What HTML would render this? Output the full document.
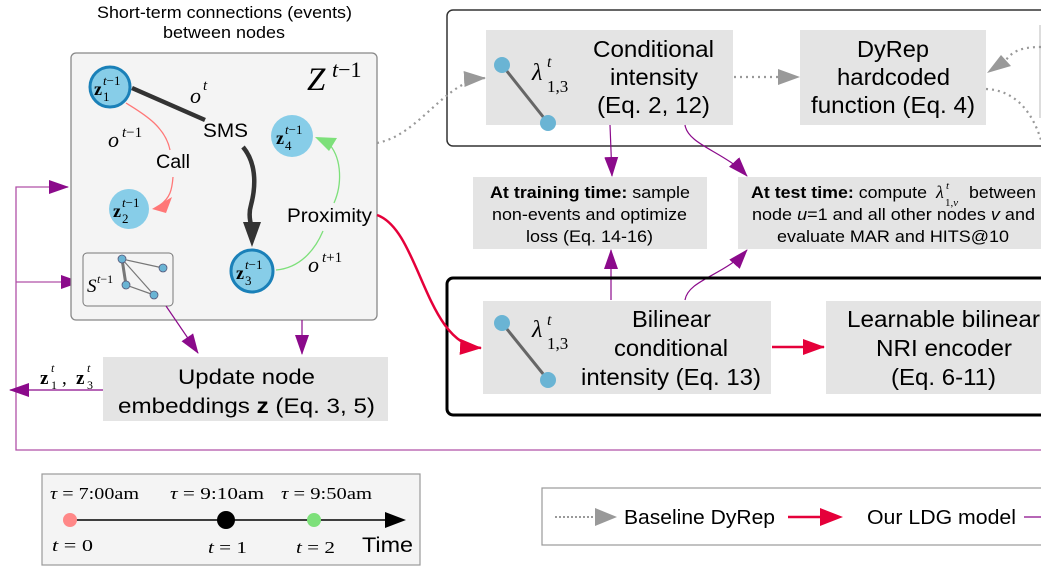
<!DOCTYPE html>
<html><head><meta charset="utf-8"><style>
html,body{margin:0;padding:0;background:#fff;width:1041px;height:573px;overflow:hidden}
svg{display:block}
.s{font-family:"Liberation Sans",sans-serif}
.m{font-family:"Liberation Serif",serif}
</style></head><body>
<svg width="1041" height="573" viewBox="0 0 1041 573" xmlns="http://www.w3.org/2000/svg">
<defs>
<marker id="pub" markerWidth="20" markerHeight="14" refX="19" refY="7" orient="auto" markerUnits="userSpaceOnUse"><path d="M0,0 L20,7 L0,14z" fill="#8b0a8b"/></marker>
<marker id="rd" markerWidth="22" markerHeight="16" refX="21" refY="8" orient="auto" markerUnits="userSpaceOnUse"><path d="M0,0 L22,8 L0,16z" fill="#e5003a"/></marker>
<marker id="gr" markerWidth="22" markerHeight="16" refX="21" refY="8" orient="auto" markerUnits="userSpaceOnUse"><path d="M0,0 L22,8 L0,16z" fill="#999"/></marker>
</defs>

<!-- title -->
<text class="s" x="97" y="18" font-size="17" textLength="255" lengthAdjust="spacingAndGlyphs">Short-term connections (events)</text>
<text class="s" x="163" y="38" font-size="17" textLength="122" lengthAdjust="spacingAndGlyphs">between nodes</text>

<!-- purple feedback loop -->
<path d="M1041,450 H16 V187 H68" fill="none" stroke="#b050a8" stroke-width="1.3" marker-end="url(#pub)"/>
<path d="M16,282 H80" fill="none" stroke="#b050a8" stroke-width="1.3" marker-end="url(#pub)"/>

<!-- Z box -->
<rect x="71" y="53" width="306" height="267" rx="5" fill="#f4f4f4" stroke="#888" stroke-width="1.3"/>
<text class="m" x="307" y="90" font-size="33" font-style="italic">Z</text>
<text class="m" x="332" y="77" font-size="22"><tspan font-style="italic">t</tspan>−1</text>

<!-- edges -->
<path d="M132,88 L205,120" stroke="#333" stroke-width="4.5" fill="none"/>
<text class="m" x="190" y="103" font-size="22" font-style="italic">o</text><text class="m" x="203" y="90" font-size="15" font-style="italic">t</text>
<text class="s" x="203" y="137" font-size="19" textLength="45" lengthAdjust="spacingAndGlyphs">SMS</text>
<path d="M243,147 C258,165 255,190 251,205 C248,215 251,225 252,228" stroke="#333" stroke-width="4.5" fill="none"/>
<path d="M243,222 L261,222 L252,247z" fill="#333"/>
<path d="M126,103 C140,112 165,125 170,150" stroke="#f77" stroke-width="1.3" fill="none"/>
<text class="s" x="156" y="168" font-size="19" textLength="34" lengthAdjust="spacingAndGlyphs">Call</text>
<path d="M173,177 C172,190 170,198 160,205" stroke="#f77" stroke-width="1.3" fill="none"/>
<path d="M152,209 L172,197 L166,213z" fill="#f77"/>
<text class="m" x="108" y="147" font-size="22" font-style="italic">o</text><text class="m" x="122" y="137" font-size="15"><tspan font-style="italic">t</tspan>−1</text>
<path d="M276,270 C300,268 315,250 323,231" stroke="#7de07a" stroke-width="1.3" fill="none"/>
<text class="s" x="287" y="222" font-size="19" textLength="85" lengthAdjust="spacingAndGlyphs">Proximity</text>
<path d="M334,203 C342,185 342,160 330,145" stroke="#7de07a" stroke-width="1.3" fill="none"/>
<path d="M315,137 L337,138 L329,151z" fill="#7de07a"/>
<text class="m" x="308" y="272" font-size="22" font-style="italic">o</text><text class="m" x="322" y="262" font-size="15"><tspan font-style="italic">t</tspan>+1</text>

<!-- nodes -->
<g class="m">
<circle cx="110" cy="87" r="20" fill="#87cde8" stroke="#1a80b8" stroke-width="3"/>
<text x="94" y="95" font-size="18" font-weight="bold">z</text><text x="103" y="85" font-size="13"><tspan font-style="italic">t</tspan>−1</text><text x="103" y="101" font-size="13">1</text>
<circle cx="129" cy="209" r="20" fill="#87cde8"/>
<text x="113" y="217" font-size="18" font-weight="bold">z</text><text x="122" y="207" font-size="13"><tspan font-style="italic">t</tspan>−1</text><text x="122" y="223" font-size="13">2</text>
<circle cx="252" cy="271" r="21" fill="#87cde8" stroke="#1a80b8" stroke-width="3"/>
<text x="236" y="279" font-size="18" font-weight="bold">z</text><text x="245" y="269" font-size="13"><tspan font-style="italic">t</tspan>−1</text><text x="245" y="285" font-size="13">3</text>
<circle cx="292" cy="136" r="21" fill="#87cde8"/>
<text x="276" y="144" font-size="18" font-weight="bold">z</text><text x="285" y="134" font-size="13"><tspan font-style="italic">t</tspan>−1</text><text x="285" y="150" font-size="13">4</text>
</g>

<!-- S box -->
<rect x="83" y="253" width="90" height="53" rx="4" fill="#f4f4f4" stroke="#777" stroke-width="1"/>
<text class="m" x="87" y="292" font-size="19" font-style="italic">S</text><text class="m" x="97" y="283" font-size="12"><tspan font-style="italic">t</tspan>−1</text>
<g stroke="#777" stroke-width="1.2"><line x1="122" y1="259" x2="163" y2="268"/><line x1="122" y1="259" x2="154" y2="295"/><line x1="126" y1="285" x2="154" y2="295"/><line x1="122" y1="259" x2="126" y2="285" stroke-width="3"/></g>
<g fill="#6ab4d4" stroke="#557" stroke-width="0.8"><circle cx="122" cy="259" r="4"/><circle cx="163" cy="268" r="4"/><circle cx="126" cy="285" r="4"/><circle cx="154" cy="295" r="4"/></g>

<!-- arrows to update -->
<path d="M166,306 L198,353" stroke="#8b0a8b" stroke-width="1.2" fill="none" marker-end="url(#pub)"/>
<path d="M302,320 L302,354" stroke="#8b0a8b" stroke-width="1.2" fill="none" marker-end="url(#pub)"/>

<!-- update box -->
<rect x="103" y="357" width="285" height="64" fill="#e4e4e4"/>
<text class="s" x="178" y="384" font-size="21" textLength="137" lengthAdjust="spacingAndGlyphs">Update node</text>
<text class="s" x="118" y="413" font-size="21" textLength="257" lengthAdjust="spacingAndGlyphs">embeddings <tspan font-weight="bold">z</tspan> (Eq. 3, 5)</text>
<path d="M103,390 L10,390" stroke="#8b0a8b" stroke-width="1.2" fill="none" marker-end="url(#pub)"/>
<text class="m" x="40" y="384" font-size="19" font-weight="bold">z</text><text class="m" x="51" y="372" font-size="12" font-style="italic">t</text><text class="m" x="51" y="389" font-size="12">1</text>
<text class="m" x="62" y="384" font-size="19">,</text>
<text class="m" x="76" y="384" font-size="19" font-weight="bold">z</text><text class="m" x="87" y="372" font-size="12" font-style="italic">t</text><text class="m" x="87" y="389" font-size="12">3</text>

<!-- top right box -->
<rect x="447" y="10" width="620" height="136" rx="6" fill="none" stroke="#333" stroke-width="1.5"/>
<line x1="1040" y1="25" x2="1040" y2="118" stroke="#bbb" stroke-width="1"/>
<path d="M377,143 C420,135 445,80 485,78" stroke="#999" stroke-width="2.2" stroke-dasharray="2,4" fill="none" marker-end="url(#gr)"/>
<rect x="486" y="30" width="247" height="95" fill="#e4e4e4"/>
<line x1="502" y1="65" x2="548" y2="123" stroke="#666" stroke-width="3"/>
<circle cx="502" cy="65" r="8" fill="#6ab4d4"/><circle cx="548" cy="123" r="8" fill="#6ab4d4"/>
<text class="m" x="532" y="80" font-size="24" font-style="italic">λ</text><text class="m" x="547" y="67" font-size="16" font-style="italic">t</text><text class="m" x="547" y="92" font-size="17">1,3</text>
<text class="s" x="593" y="57" font-size="23" textLength="121" lengthAdjust="spacingAndGlyphs">Conditional</text>
<text class="s" x="610" y="85" font-size="23" textLength="88" lengthAdjust="spacingAndGlyphs">intensity</text>
<text class="s" x="597" y="113" font-size="23" textLength="113" lengthAdjust="spacingAndGlyphs">(Eq. 2, 12)</text>
<path d="M734,77 L799,77" stroke="#999" stroke-width="2.2" stroke-dasharray="2,4" fill="none" marker-end="url(#gr)"/>
<rect x="800" y="30" width="186" height="95" fill="#e4e4e4"/>
<text class="s" x="857" y="57" font-size="23" textLength="72" lengthAdjust="spacingAndGlyphs">DyRep</text>
<text class="s" x="837" y="85" font-size="23" textLength="113" lengthAdjust="spacingAndGlyphs">hardcoded</text>
<text class="s" x="811" y="113" font-size="23" textLength="164" lengthAdjust="spacingAndGlyphs">function (Eq. 4)</text>
<path d="M1041,47 C1020,47 1012,52 1006,60" stroke="#999" stroke-width="2.2" stroke-dasharray="2,4" fill="none"/>
<path d="M987,73 L1001,55 L1011,66z" fill="#999"/>
<path d="M986,89 C1010,90 1030,105 1041,140" stroke="#999" stroke-width="2.2" stroke-dasharray="2,4" fill="none"/>

<!-- purple to middle boxes -->
<path d="M610,125 L612,176" stroke="#8b0a8b" stroke-width="1.2" fill="none" marker-end="url(#pub)"/>
<path d="M685,125 C688,145 725,152 747,176" stroke="#8b0a8b" stroke-width="1.2" fill="none" marker-end="url(#pub)"/>
<path d="M611,300 L611,250" stroke="#8b0a8b" stroke-width="1.2" fill="none" marker-end="url(#pub)"/>
<path d="M685,300 C688,280 725,275 747,250" stroke="#8b0a8b" stroke-width="1.2" fill="none" marker-end="url(#pub)"/>

<rect x="473" y="177" width="234" height="72" fill="#e4e4e4"/>
<text class="s" x="490" y="198" font-size="17" textLength="200" lengthAdjust="spacingAndGlyphs"><tspan font-weight="bold">At training time:</tspan> sample</text>
<text class="s" x="492" y="220" font-size="17" textLength="195" lengthAdjust="spacingAndGlyphs">non-events and optimize</text>
<text class="s" x="526" y="242" font-size="17" textLength="127" lengthAdjust="spacingAndGlyphs">loss (Eq. 14-16)</text>
<rect x="738" y="177" width="310" height="72" fill="#e4e4e4"/>
<text class="s" x="751" y="198" font-size="17" textLength="176" lengthAdjust="spacingAndGlyphs"><tspan font-weight="bold">At test time:</tspan> compute</text>
<text class="m" x="936" y="198" font-size="18" font-style="italic">λ</text><text class="m" x="946" y="189" font-size="11" font-style="italic">t</text><text class="m" x="945" y="206" font-size="11">1,<tspan font-style="italic">v</tspan></text>
<text class="s" x="969" y="198" font-size="17" textLength="67" lengthAdjust="spacingAndGlyphs">between</text>
<text class="s" x="752" y="220" font-size="17" textLength="283" lengthAdjust="spacingAndGlyphs">node <tspan font-style="italic">u</tspan>=1 and all other nodes <tspan font-style="italic">v</tspan> and</text>
<text class="s" x="777" y="242" font-size="17" textLength="232" lengthAdjust="spacingAndGlyphs">evaluate MAR and HITS@10</text>

<!-- bottom right box -->
<rect x="447" y="278" width="620" height="137" rx="6" fill="none" stroke="#000" stroke-width="3"/>
<path d="M377,215 C420,230 425,345 481,348" stroke="#e5003a" stroke-width="2.5" fill="none" marker-end="url(#rd)"/>
<rect x="483" y="301" width="288" height="93" fill="#e4e4e4"/>
<line x1="502" y1="323" x2="548" y2="380" stroke="#666" stroke-width="3"/>
<circle cx="502" cy="323" r="8" fill="#6ab4d4"/><circle cx="548" cy="380" r="8" fill="#6ab4d4"/>
<text class="m" x="532" y="337" font-size="24" font-style="italic">λ</text><text class="m" x="547" y="325" font-size="16" font-style="italic">t</text><text class="m" x="547" y="349" font-size="17">1,3</text>
<text class="s" x="632" y="327" font-size="23" textLength="79" lengthAdjust="spacingAndGlyphs">Bilinear</text>
<text class="s" x="614" y="356" font-size="23" textLength="114" lengthAdjust="spacingAndGlyphs">conditional</text>
<text class="s" x="581" y="385" font-size="23" textLength="180" lengthAdjust="spacingAndGlyphs">intensity (Eq. 13)</text>
<path d="M772,347 L824,347" stroke="#e5003a" stroke-width="2.5" fill="none" marker-end="url(#rd)"/>
<rect x="826" y="301" width="230" height="93" fill="#e4e4e4"/>
<text class="s" x="847" y="327" font-size="23" textLength="193" lengthAdjust="spacingAndGlyphs">Learnable bilinear</text>
<text class="s" x="876" y="356" font-size="23" textLength="136" lengthAdjust="spacingAndGlyphs">NRI encoder</text>
<text class="s" x="891" y="385" font-size="23" textLength="105" lengthAdjust="spacingAndGlyphs">(Eq. 6-11)</text>

<!-- timeline -->
<rect x="42" y="474" width="378" height="91" fill="#f4f4f4" stroke="#999" stroke-width="1.2"/>
<g class="m" font-size="17">
<text x="50" y="499" textLength="89" lengthAdjust="spacingAndGlyphs"><tspan font-style="italic">τ</tspan> = 7:00am</text>
<text x="170" y="499" textLength="94" lengthAdjust="spacingAndGlyphs"><tspan font-style="italic">τ</tspan> = 9:10am</text>
<text x="281" y="499" textLength="91" lengthAdjust="spacingAndGlyphs"><tspan font-style="italic">τ</tspan> = 9:50am</text>
<text x="52" y="551" textLength="41" lengthAdjust="spacingAndGlyphs"><tspan font-style="italic">t</tspan> = 0</text>
<text x="208" y="553" textLength="39" lengthAdjust="spacingAndGlyphs"><tspan font-style="italic">t</tspan> = 1</text>
<text x="296" y="553" textLength="39" lengthAdjust="spacingAndGlyphs"><tspan font-style="italic">t</tspan> = 2</text>
</g>
<line x1="70" y1="520" x2="390" y2="520" stroke="#000" stroke-width="1.5"/>
<path d="M385,512 L406,520 L385,528z" fill="#000"/>
<circle cx="70" cy="520" r="7" fill="#f88"/>
<circle cx="226" cy="520" r="9" fill="#000"/>
<circle cx="314" cy="520" r="7" fill="#7de07a"/>
<text class="s" x="362" y="552" font-size="21" textLength="51" lengthAdjust="spacingAndGlyphs">Time</text>

<!-- legend -->
<rect x="542" y="488" width="520" height="57" fill="#fff" stroke="#999" stroke-width="1.2"/>
<line x1="555" y1="517" x2="596" y2="517" stroke="#999" stroke-width="2" stroke-dasharray="2,2"/>
<path d="M595,508 L617,517 L595,526z" fill="#999"/>
<text class="s" x="624" y="524" font-size="20" textLength="151" lengthAdjust="spacingAndGlyphs">Baseline DyRep</text>
<line x1="788" y1="517" x2="825" y2="517" stroke="#e5003a" stroke-width="2.5"/>
<path d="M820,508 L843,517 L820,526z" fill="#e5003a"/>
<text class="s" x="867" y="524" font-size="20" textLength="149" lengthAdjust="spacingAndGlyphs">Our LDG model</text>
<line x1="1024" y1="517" x2="1041" y2="517" stroke="#8b0a8b" stroke-width="1.2"/>
</svg>
</body></html>
